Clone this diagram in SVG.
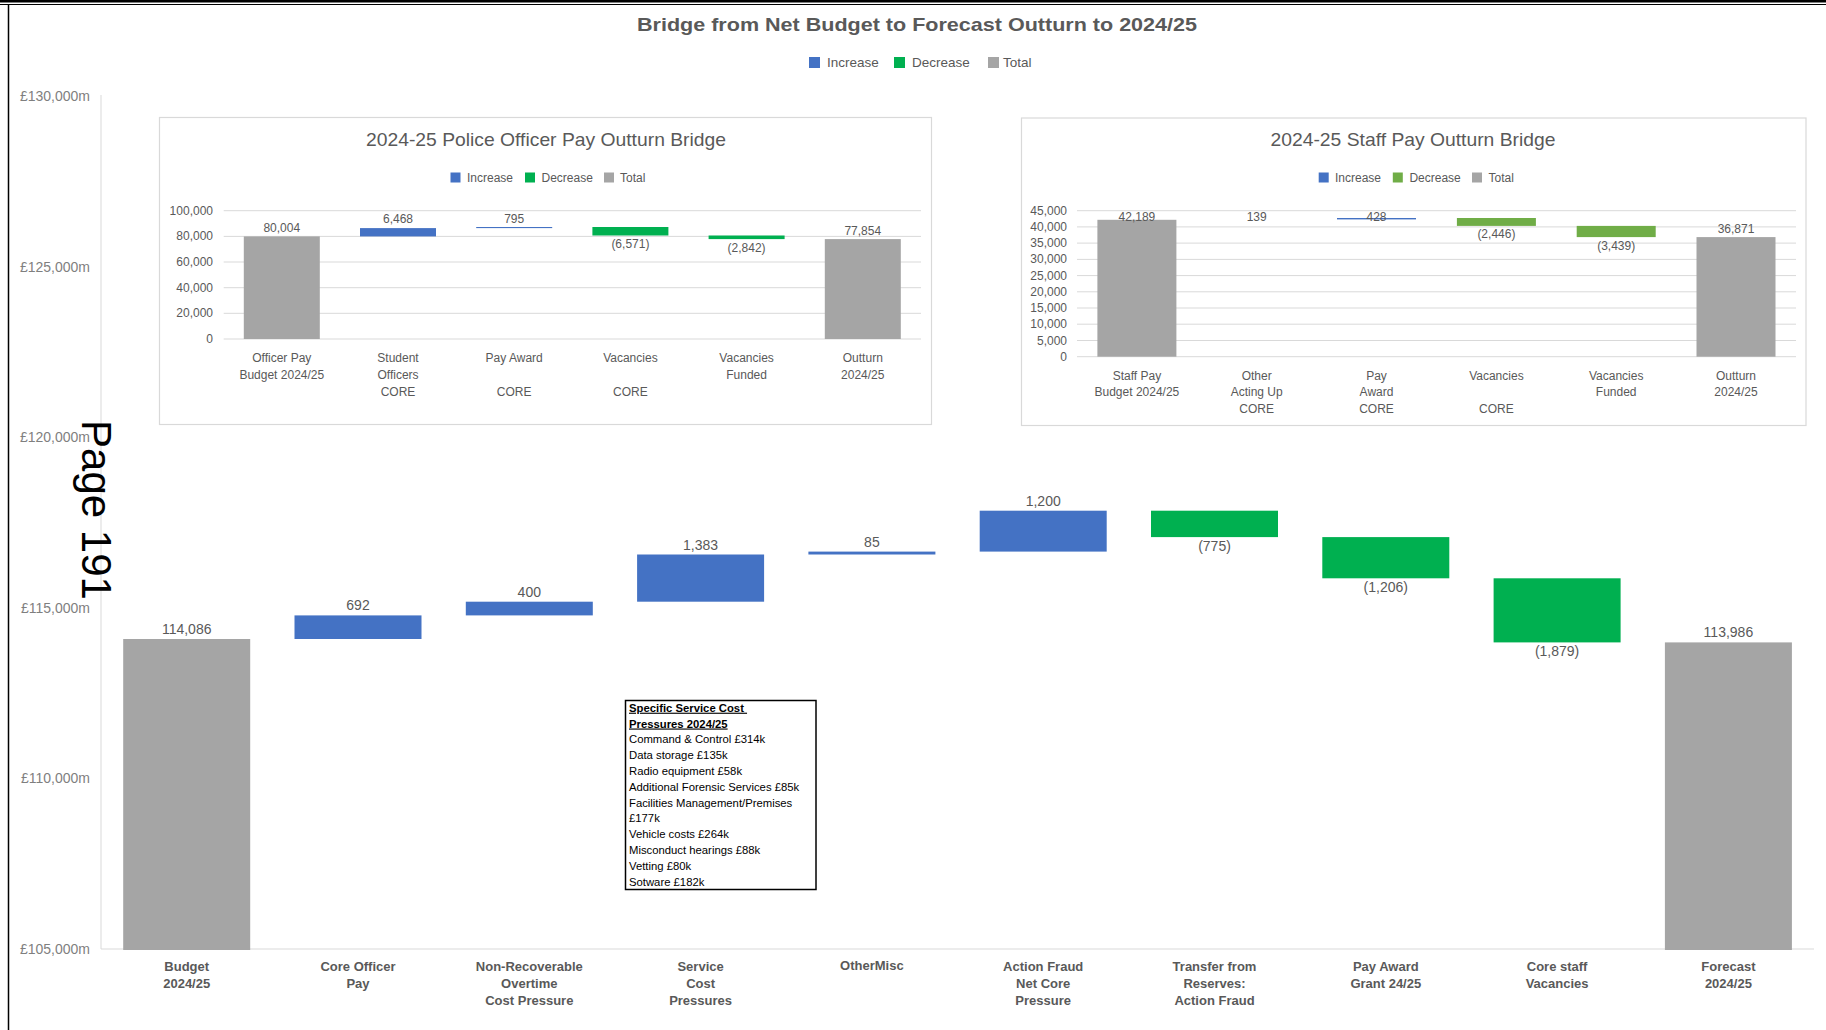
<svg xmlns="http://www.w3.org/2000/svg" width="1826" height="1030" viewBox="0 0 1826 1030">
<style>
text{font-family:"Liberation Sans",Arial,sans-serif;fill:#595959}
.inc{fill:#4472C4}
.dec{fill:#00B050}
.dec2{fill:#70AD47}
.tot{fill:#A5A5A5}
.grid{stroke:#D9D9D9;stroke-width:1;fill:none}
.ax{font-size:14px;text-anchor:end;fill:#7F7F7F}
.val{font-size:14px;text-anchor:middle}
.cat{font-size:13px;font-weight:bold;text-anchor:middle}
.sval{font-size:12px;text-anchor:middle}
.scat{font-size:12px;text-anchor:middle}
.sax{font-size:12px;text-anchor:end}
.leg{font-size:13.5px}
.sleg{font-size:12px}
.stitle{font-size:19px;text-anchor:middle}
.frame{fill:#FFFFFF;stroke:#D9D9D9;stroke-width:1.2}
.note{font-size:11.3px;fill:#000000}
</style>
<rect x="0" y="0" width="1826" height="1030" fill="#FFFFFF"/>
<g id="page-border">
<rect x="0" y="0" width="1826" height="2.5" fill="#000"/>
<line x1="0" y1="4.5" x2="1826" y2="4.5" stroke="#000" stroke-width="1"/>
<line x1="8.5" y1="4" x2="8.5" y2="1030" stroke="#000" stroke-width="1.5"/>
</g>

<g id="main-title">
<text x="917" y="31" text-anchor="middle" font-size="19" font-weight="bold" textLength="560" lengthAdjust="spacingAndGlyphs">Bridge from Net Budget to Forecast Outturn to 2024/25</text>
</g>
<g id="main-legend">
<rect x="809" y="57" width="11" height="11" class="inc"/>
<text x="827" y="67" class="leg">Increase</text>
<rect x="894" y="57" width="11" height="11" class="dec"/>
<text x="912" y="67" class="leg">Decrease</text>
<rect x="988" y="57" width="11" height="11" class="tot"/>
<text x="1003" y="67" class="leg">Total</text>
</g>

<g id="main-axis">
<line x1="101" y1="95" x2="101" y2="949" class="grid"/>
<line x1="101" y1="949" x2="1814" y2="949" class="grid"/>
<text x="90" y="101" class="ax">£130,000m</text>
<text x="90" y="271.6" class="ax">£125,000m</text>
<text x="90" y="442.2" class="ax">£120,000m</text>
<text x="90" y="612.8" class="ax">£115,000m</text>
<text x="90" y="783.4" class="ax">£110,000m</text>
<text x="90" y="954" class="ax">£105,000m</text>
</g>

<g id="main-bars">
<rect id="bar-budget" x="123.2" y="639.0" width="127" height="311" class="tot"/>
<rect id="bar-core-officer" x="294.5" y="615.4" width="127" height="23.6" class="inc"/>
<rect id="bar-overtime" x="465.8" y="601.7" width="127" height="13.7" class="inc"/>
<rect id="bar-service" x="637.1" y="554.5" width="127" height="47.2" class="inc"/>
<rect id="bar-othermisc" x="808.4" y="551.6" width="127" height="2.9" class="inc"/>
<rect id="bar-action-fraud" x="979.7" y="510.7" width="127" height="40.9" class="inc"/>
<rect id="bar-transfer" x="1151.0" y="510.7" width="127" height="26.4" class="dec"/>
<rect id="bar-pay-award" x="1322.3" y="537.1" width="127" height="41.2" class="dec"/>
<rect id="bar-core-staff" x="1493.6" y="578.3" width="127" height="64.1" class="dec"/>
<rect id="bar-forecast" x="1664.9" y="642.4" width="127" height="307.6" class="tot"/>
</g>
<g id="main-values">
<text x="186.7" y="634" class="val">114,086</text>
<text x="358" y="610.4" class="val">692</text>
<text x="529.3" y="596.7" class="val">400</text>
<text x="700.6" y="549.5" class="val">1,383</text>
<text x="871.9" y="546.6" class="val">85</text>
<text x="1043.2" y="505.7" class="val">1,200</text>
<text x="1214.5" y="551" class="val">(775)</text>
<text x="1385.8" y="592.3" class="val">(1,206)</text>
<text x="1557.1" y="656.4" class="val">(1,879)</text>
<text x="1728.4" y="637.4" class="val">113,986</text>
</g>
<g id="main-categories">
<text x="186.7" y="970.7" class="cat">Budget</text><text x="186.7" y="987.7" class="cat">2024/25</text>
<text x="358" y="970.7" class="cat">Core Officer</text><text x="358" y="987.7" class="cat">Pay</text>
<text x="529.3" y="970.7" class="cat">Non-Recoverable</text><text x="529.3" y="987.7" class="cat">Overtime</text><text x="529.3" y="1004.7" class="cat">Cost Pressure</text>
<text x="700.6" y="970.7" class="cat">Service</text><text x="700.6" y="987.7" class="cat">Cost</text><text x="700.6" y="1004.7" class="cat">Pressures</text>
<text x="871.9" y="969.5" class="cat">OtherMisc</text>
<text x="1043.2" y="970.7" class="cat">Action Fraud</text><text x="1043.2" y="987.7" class="cat">Net Core</text><text x="1043.2" y="1004.7" class="cat">Pressure</text>
<text x="1214.5" y="970.7" class="cat">Transfer from</text><text x="1214.5" y="987.7" class="cat">Reserves:</text><text x="1214.5" y="1004.7" class="cat">Action Fraud</text>
<text x="1385.8" y="970.7" class="cat">Pay Award</text><text x="1385.8" y="987.7" class="cat">Grant 24/25</text>
<text x="1557.1" y="970.7" class="cat">Core staff</text><text x="1557.1" y="987.7" class="cat">Vacancies</text>
<text x="1728.4" y="970.7" class="cat">Forecast</text><text x="1728.4" y="987.7" class="cat">2024/25</text>
</g>

<g id="page-number">
<text transform="translate(82,510) rotate(90)" text-anchor="middle" font-size="42" style="fill:#000000">Page 191</text>
</g>

<g id="officer-pay-chart">
<rect x="159.5" y="117.5" width="772" height="307" class="frame"/>
<text x="546" y="146" class="stitle" textLength="360" lengthAdjust="spacingAndGlyphs">2024-25 Police Officer Pay Outturn Bridge</text>
<rect x="450.5" y="172.5" width="10" height="10" class="inc"/>
<text x="467" y="182" class="sleg">Increase</text>
<rect x="525" y="172.5" width="10" height="10" class="dec"/>
<text x="541.5" y="182" class="sleg">Decrease</text>
<rect x="604" y="172.5" width="10" height="10" class="tot"/>
<text x="620" y="182" class="sleg">Total</text>
<g class="grid">
<line x1="223.7" y1="210.7" x2="921" y2="210.7"/>
<line x1="223.7" y1="236.4" x2="921" y2="236.4"/>
<line x1="223.7" y1="262" x2="921" y2="262"/>
<line x1="223.7" y1="287.7" x2="921" y2="287.7"/>
<line x1="223.7" y1="313.3" x2="921" y2="313.3"/>
<line x1="223.7" y1="339" x2="921" y2="339"/>
</g>
<text x="213" y="214.7" class="sax">100,000</text>
<text x="213" y="240.4" class="sax">80,000</text>
<text x="213" y="266" class="sax">60,000</text>
<text x="213" y="291.7" class="sax">40,000</text>
<text x="213" y="317.3" class="sax">20,000</text>
<text x="213" y="343" class="sax">0</text>
<rect x="243.8" y="236.4" width="76" height="102.6" class="tot"/>
<rect x="360" y="228.1" width="76" height="8.3" class="inc"/>
<rect x="476.2" y="227.0" width="76" height="1.1" class="inc"/>
<rect x="592.4" y="227.0" width="76" height="8.5" class="dec"/>
<rect x="708.6" y="235.5" width="76" height="3.6" class="dec"/>
<rect x="824.8" y="239.1" width="76" height="99.9" class="tot"/>
<text x="281.8" y="232" class="sval">80,004</text>
<text x="398" y="223" class="sval">6,468</text>
<text x="514.2" y="222.5" class="sval">795</text>
<text x="630.4" y="247.5" class="sval">(6,571)</text>
<text x="746.6" y="251.5" class="sval">(2,842)</text>
<text x="862.8" y="234.5" class="sval">77,854</text>
<text x="281.8" y="362" class="scat">Officer Pay</text><text x="281.8" y="379" class="scat">Budget 2024/25</text>
<text x="398" y="362" class="scat">Student</text><text x="398" y="379" class="scat">Officers</text><text x="398" y="396" class="scat">CORE</text>
<text x="514.2" y="362" class="scat">Pay Award</text><text x="514.2" y="396" class="scat">CORE</text>
<text x="630.4" y="362" class="scat">Vacancies</text><text x="630.4" y="396" class="scat">CORE</text>
<text x="746.6" y="362" class="scat">Vacancies</text><text x="746.6" y="379" class="scat">Funded</text>
<text x="862.8" y="362" class="scat">Outturn</text><text x="862.8" y="379" class="scat">2024/25</text>
</g>

<g id="staff-pay-chart">
<rect x="1021.5" y="118" width="784.5" height="307.5" class="frame"/>
<text x="1413" y="146" class="stitle" textLength="285" lengthAdjust="spacingAndGlyphs">2024-25 Staff Pay Outturn Bridge</text>
<rect x="1318.7" y="172.5" width="10" height="10" class="inc"/>
<text x="1335" y="182" class="sleg">Increase</text>
<rect x="1392.8" y="172.5" width="10" height="10" class="dec2"/>
<text x="1409.4" y="182" class="sleg">Decrease</text>
<rect x="1472" y="172.5" width="10" height="10" class="tot"/>
<text x="1488.5" y="182" class="sleg">Total</text>
<g class="grid">
<line x1="1077" y1="210.7" x2="1796" y2="210.7"/>
<line x1="1077" y1="226.9" x2="1796" y2="226.9"/>
<line x1="1077" y1="243.1" x2="1796" y2="243.1"/>
<line x1="1077" y1="259.4" x2="1796" y2="259.4"/>
<line x1="1077" y1="275.6" x2="1796" y2="275.6"/>
<line x1="1077" y1="291.8" x2="1796" y2="291.8"/>
<line x1="1077" y1="308.0" x2="1796" y2="308.0"/>
<line x1="1077" y1="324.2" x2="1796" y2="324.2"/>
<line x1="1077" y1="340.5" x2="1796" y2="340.5"/>
<line x1="1077" y1="356.7" x2="1796" y2="356.7"/>
</g>
<text x="1067" y="214.7" class="sax">45,000</text>
<text x="1067" y="230.9" class="sax">40,000</text>
<text x="1067" y="247.1" class="sax">35,000</text>
<text x="1067" y="263.4" class="sax">30,000</text>
<text x="1067" y="279.6" class="sax">25,000</text>
<text x="1067" y="295.8" class="sax">20,000</text>
<text x="1067" y="312.0" class="sax">15,000</text>
<text x="1067" y="328.2" class="sax">10,000</text>
<text x="1067" y="344.5" class="sax">5,000</text>
<text x="1067" y="360.7" class="sax">0</text>
<rect x="1097.4" y="219.8" width="79" height="136.9" class="tot"/>
<rect x="1337" y="218.0" width="79" height="1.4" class="inc"/>
<rect x="1456.9" y="218.0" width="79" height="7.9" class="dec2"/>
<rect x="1576.7" y="225.9" width="79" height="11.2" class="dec2"/>
<rect x="1696.5" y="237.1" width="79" height="119.6" class="tot"/>
<text x="1136.9" y="221" class="sval">42,189</text>
<text x="1256.7" y="221" class="sval">139</text>
<text x="1376.5" y="221" class="sval">428</text>
<text x="1496.4" y="238" class="sval">(2,446)</text>
<text x="1616.2" y="250" class="sval">(3,439)</text>
<text x="1736" y="232.5" class="sval">36,871</text>
<text x="1136.9" y="379.5" class="scat">Staff Pay</text><text x="1136.9" y="396" class="scat">Budget 2024/25</text>
<text x="1256.7" y="379.5" class="scat">Other</text><text x="1256.7" y="396" class="scat">Acting Up</text><text x="1256.7" y="413" class="scat">CORE</text>
<text x="1376.5" y="379.5" class="scat">Pay</text><text x="1376.5" y="396" class="scat">Award</text><text x="1376.5" y="413" class="scat">CORE</text>
<text x="1496.4" y="379.5" class="scat">Vacancies</text><text x="1496.4" y="413" class="scat">CORE</text>
<text x="1616.2" y="379.5" class="scat">Vacancies</text><text x="1616.2" y="396" class="scat">Funded</text>
<text x="1736" y="379.5" class="scat">Outturn</text><text x="1736" y="396" class="scat">2024/25</text>
</g>

<g id="service-cost-note">
<rect x="625.5" y="700.5" width="190.5" height="189" fill="#FFFFFF" stroke="#000" stroke-width="1.5"/>
<text x="629" y="711.7" class="note" font-weight="bold" text-decoration="underline">Specific Service Cost&#160;</text>
<text x="629" y="727.5" class="note" font-weight="bold" text-decoration="underline">Pressures 2024/25</text>
<text x="629" y="743.3" class="note">Command &amp; Control £314k</text>
<text x="629" y="759.1" class="note">Data storage £135k</text>
<text x="629" y="774.9" class="note">Radio equipment £58k</text>
<text x="629" y="790.7" class="note">Additional Forensic Services £85k</text>
<text x="629" y="806.5" class="note">Facilities Management/Premises</text>
<text x="629" y="822.3" class="note">£177k</text>
<text x="629" y="838.1" class="note">Vehicle costs £264k</text>
<text x="629" y="853.9" class="note">Misconduct hearings £88k</text>
<text x="629" y="869.7" class="note">Vetting £80k</text>
<text x="629" y="885.5" class="note">Sotware £182k</text>
</g>
</svg>
